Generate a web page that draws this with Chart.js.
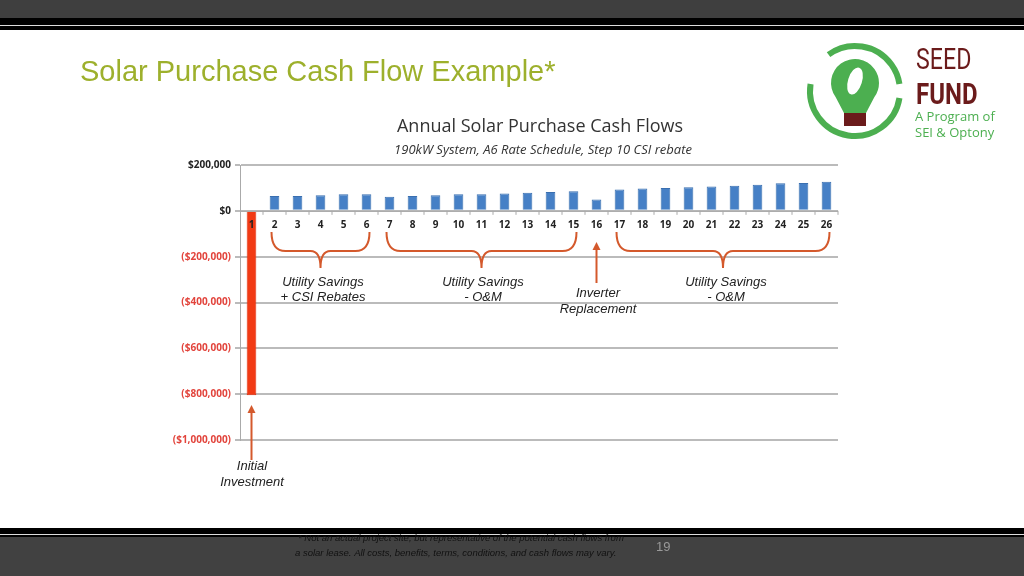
<!DOCTYPE html>
<html>
<head>
<meta charset="utf-8">
<script src="https://cdn.jsdelivr.net/npm/chart.js@4"></script>
<style>
  html, body { margin: 0; padding: 0; background: #fff; }
  #wrap { position: relative; width: 1024px; height: 576px; }
</style>
</head>
<body>
<div id="wrap"><canvas id="c" width="1024" height="576"></canvas></div>
<script>
// Data
const years = ["1","2","3","4","5","6","7","8","9","10","11","12","13","14","15","16","17","18","19","20","21","22","23","24","25","26"]
const cashFlows = [-805000, 65000, 65000, 68000, 72000, 72000, 62000, 65000, 68000, 72000, 72000, 76000, 79000, 82000, 85000,
  50000, 93000, 97000, 100000, 103000, 106000, 110000, 114000, 120000, 122000, 127000]
const yTicks = [200000, 0, -200000, -400000, -600000, -800000, -1000000]

const braces = [
  { from: 1, to: 5, lines: ["Utility Savings", "+ CSI Rebates"], tx: 323 },
  { from: 6, to: 14, lines: ["Utility Savings", "- O&M"], tx: 483 },
  { from: 16, to: 25, lines: ["Utility Savings", "- O&M"], tx: 726 },
]

const orange = "#d4592c"

function money(v) {
  const s = "$" + Math.abs(v).toLocaleString("en-US")
  return v < 0 ? "(" + s + ")" : s
}

// slide background, titles, logo
const slidePlugin = {
  id: "slide",
  beforeDraw(chart) {
    const c = chart.ctx
    c.save()
    c.fillStyle = "#fff"; c.fillRect(0, 0, 1024, 576)
    // top bars
    c.fillStyle = "#3f3f3f"; c.fillRect(0, 0, 1024, 18)
    c.fillStyle = "#000"; c.fillRect(0, 18, 1024, 12)
    c.fillStyle = "#ddd"; c.fillRect(0, 25, 1024, 1)
    // bottom bars
    c.fillStyle = "#000"; c.fillRect(0, 528, 1024, 9)
    c.fillStyle = "#ddd"; c.fillRect(0, 534, 1024, 1)
    c.fillStyle = "#414141"; c.fillRect(0, 537, 1024, 39)
    // footnote
    c.fillStyle = "#111"
    c.font = "italic 9.5px 'Liberation Sans'"
    c.textAlign = "left"; c.textBaseline = "middle"
    c.fillText("* Not an actual project site, but representative of the potential cash flows from", 298, 538)
    c.fillText("a solar lease. All costs, benefits, terms, conditions, and cash flows may vary.", 295, 553)
    c.fillStyle = "#999"; c.font = "13px 'Liberation Sans'"
    c.fillText("19", 656, 547)
    // title
    c.fillStyle = "#9db02c"; c.font = "29px 'Liberation Sans'"
    c.fillText("Solar Purchase Cash Flow Example*", 80, 73)
    // chart titles
    c.textAlign = "center"
    c.fillStyle = "#333"; c.font = "18px 'Open Sans'"
    c.fillText("Annual Solar Purchase Cash Flows", 540, 127)
    c.font = "italic 13px 'Open Sans'"
    c.fillText("190kW System, A6 Rate Schedule, Step 10 CSI rebate", 543, 150)
    // logo
    const cx = 855, cy = 91
    c.strokeStyle = "#4caf50"; c.lineWidth = 6
    c.beginPath(); c.arc(cx, cy, 45, Math.PI * 1.3, Math.PI * 1.95); c.stroke()
    c.beginPath(); c.arc(cx, cy, 45, Math.PI * 0.05, Math.PI * 1.05); c.stroke()
    c.fillStyle = "#4caf50"
    c.beginPath(); c.arc(cx, cy - 8, 24, Math.PI * 0.8, Math.PI * 2.2); c.lineTo(cx + 11, cy + 22); c.lineTo(cx - 11, cy + 22); c.closePath(); c.fill()
    c.fillStyle = "#fff"
    c.beginPath(); c.ellipse(cx, cy - 10, 7, 14, 0.3, 0, Math.PI * 2); c.fill()
    c.fillStyle = "#6b1b1b"; c.fillRect(cx - 11, cy + 22, 22, 13)
    c.textAlign = "left"
    c.save(); c.translate(916, 0); c.scale(0.8, 1)
    c.font = "29px Roboto"; c.fillText("SEED", 0, 62)
    c.font = "bold 30px Roboto"; c.fillText("FUND", 0, 96)
    c.restore()
    c.fillStyle = "#4caf50"; c.font = "13px 'Open Sans'"
    c.fillText("A Program of", 915, 117)
    c.fillText("SEI & Optony", 915, 133)
    c.restore()
  },
  afterDatasetsDraw(chart) {
    const c = chart.ctx, x = chart.scales.x, y = chart.scales.y
    const y0 = y.getPixelForValue(0)
    c.save()
    // zero line ticks and category labels
    c.strokeStyle = "#aaa"; c.lineWidth = 1
    c.beginPath(); c.moveTo(chart.chartArea.left, y0 + 0.5); c.lineTo(chart.chartArea.right, y0 + 0.5); c.stroke()
    c.font = "bold 10px 'Open Sans'"; c.textAlign = "center"; c.textBaseline = "middle"
    years.forEach((lab, i) => {
      const px = x.getPixelForValue(i)
      const edge = px + (x.getPixelForValue(1) - x.getPixelForValue(0)) / 2
      c.beginPath(); c.moveTo(edge, y0); c.lineTo(edge, y0 + 4); c.stroke()
      c.fillStyle = "#222"
      c.fillText(lab, px, y0 + 14)
    })
    // braces
    c.strokeStyle = orange; c.lineWidth = 2
    const top = 232, mid = 251, tip = 268
    braces.forEach(b => {
      const x1 = x.getPixelForValue(b.from) - 3, x2 = x.getPixelForValue(b.to) + 3, xc = (x1 + x2) / 2
      c.beginPath()
      c.moveTo(x1, top)
      c.quadraticCurveTo(x1, mid, x1 + 14, mid)
      c.lineTo(xc - 10, mid)
      c.quadraticCurveTo(xc, mid, xc, tip)
      c.quadraticCurveTo(xc, mid, xc + 10, mid)
      c.lineTo(x2 - 14, mid)
      c.quadraticCurveTo(x2, mid, x2, top)
      c.stroke()
      c.fillStyle = "#222"; c.font = "italic 13px 'Liberation Sans'"
      c.fillText(b.lines[0], b.tx, 282)
      c.fillText(b.lines[1], b.tx, 297)
    })
    // arrows
    function arrow(ax, yFrom, yTo) {
      c.beginPath(); c.moveTo(ax, yFrom); c.lineTo(ax, yTo + 6); c.stroke()
      c.fillStyle = orange
      c.beginPath(); c.moveTo(ax, yTo); c.lineTo(ax - 4, yTo + 8); c.lineTo(ax + 4, yTo + 8); c.closePath(); c.fill()
    }
    arrow(x.getPixelForValue(15), 283, 242)
    arrow(x.getPixelForValue(0), 460, 405)
    c.fillStyle = "#222"; c.font = "italic 13px 'Liberation Sans'"
    c.fillText("Inverter", 598, 293)
    c.fillText("Replacement", 598, 309)
    c.fillText("Initial", 252, 466)
    c.fillText("Investment", 252, 482)
    c.restore()
  }
}

new Chart(document.getElementById("c"), {
  type: "bar",
  data: {
    labels: years,
    datasets: [{
      data: cashFlows,
      backgroundColor: cashFlows.map(v => v < 0 ? "#f23a14" : "#4680c6"),
      borderColor: cashFlows.map(v => v < 0 ? "#e03010" : "#3a6fb0"),
      borderWidth: 1,
      barPercentage: 0.42,
      categoryPercentage: 1
    }]
  },
  plugins: [slidePlugin],
  options: {
    responsive: false,
    animation: false,
    layout: { padding: { left: 155, right: 186, top: 165, bottom: 136 } },
    plugins: { legend: { display: false }, tooltip: { enabled: false } },
    scales: {
      x: { display: false, grid: { display: false } },
      y: {
        min: -1000000, max: 200000,
        afterFit(s) { s.width = 85 },
        afterBuildTicks(s) { s.ticks = yTicks.map(v => ({ value: v })) },
        border: { color: "#aaa" },
        grid: { color: "#bbb", lineWidth: 2, tickLength: 5 },
        ticks: {
          padding: 4,
          font: { family: "'Open Sans'", size: 10, weight: "bold" },
          color: ctx => ctx.tick.value < 0 ? "#e2443c" : "#222",
          callback: v => money(v)
        }
      }
    }
  }
})
</script>
</body>
</html>
